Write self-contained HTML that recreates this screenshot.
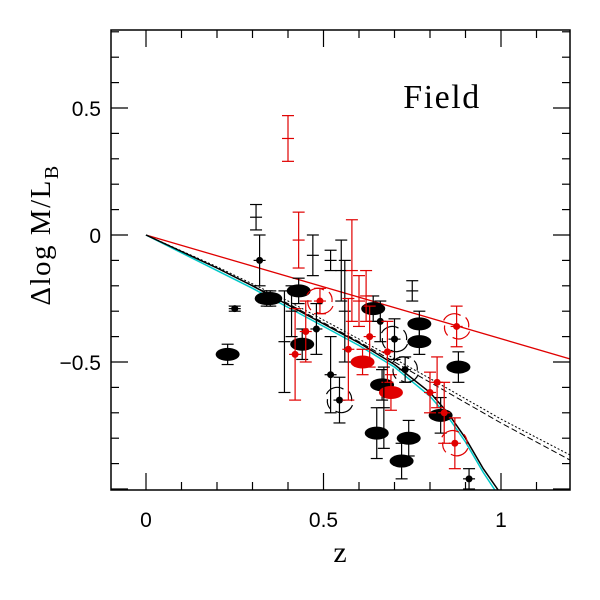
<!DOCTYPE html>
<html><head><meta charset="utf-8"><style>
html,body{margin:0;padding:0;background:#fff;width:600px;height:600px;overflow:hidden}
text{font-family:"Liberation Sans",sans-serif}
</style></head><body>
<svg id="chart" width="600" height="600" xmlns="http://www.w3.org/2000/svg">
<g id="marks"></g>
<g id="axes"></g>
<text x="442" y="108" font-size="34" text-anchor="middle" style="font-family:'Liberation Serif',serif" letter-spacing="1.5">Field</text>
<text x="340" y="562" font-size="30" text-anchor="middle" style="font-family:'Liberation Serif',serif">z</text>
<text transform="translate(50,235) rotate(-90)" font-size="29" text-anchor="middle" letter-spacing="1.5" style="font-family:'Liberation Serif',serif">Δlog M/L<tspan font-size="20" dy="8">B</tspan></text>
</svg>
<script>
const xTicks=[0,0.5,1];
const xTickLabels=["0","0.5","1"];
const yTicks=[-0.5,0,0.5];
const yTickLabels=["−0.5","0","0.5"];
// points: z, dlogML, err(y), color (0 black,1 red), marker: d dot, e ellipse, s spiral, n none
const ptX=[0.25,0.32,0.35,0.23,0.34,0.43,0.44,0.64,0.61,0.665,0.69,0.65,0.77,0.77,0.74,0.72,0.88,0.83,0.91,0.545,0.49,0.875,0.70,0.73,0.87,0.40,0.31,0.43,0.47,0.52,0.55,0.58,0.62,0.66,0.68,0.75,0.60,0.42,0.45,0.56,0.63,0.80,0.82,0.48,0.39,0.57,0.67,0.84,0.52,0.41];
const ptY=[-0.29,-0.10,-0.25,-0.47,-0.25,-0.22,-0.43,-0.29,-0.50,-0.59,-0.62,-0.78,-0.35,-0.42,-0.80,-0.89,-0.52,-0.71,-0.96,-0.65,-0.26,-0.36,-0.41,-0.53,-0.82,0.38,0.07,-0.02,-0.08,-0.10,-0.14,-0.14,-0.24,-0.34,-0.46,-0.22,-0.26,-0.47,-0.38,-0.30,-0.40,-0.62,-0.58,-0.37,-0.42,-0.45,-0.68,-0.70,-0.55,-0.30];
const ptErr=[0.01,0.1,0.03,0.04,0.03,0.05,0.06,0.05,0.05,0.06,0.07,0.1,0.05,0.05,0.07,0.07,0.06,0.07,0.04,0.09,0.05,0.08,0.08,0.05,0.1,0.09,0.05,0.11,0.08,0.04,0.12,0.2,0.1,0.08,0.12,0.04,0.1,0.18,0.12,0.2,0.12,0.08,0.1,0.1,0.2,0.2,0.16,0.12,0.15,0.1];
const ptCol=[0,0,0,0,0,0,0,0,1,0,1,0,0,0,0,0,0,0,0,0,1,1,0,0,1,1,0,1,0,0,0,1,1,0,1,0,1,1,1,0,1,1,1,0,0,1,0,1,0,0];
const ptMark=["d","d","e","e","e","e","e","e","e","e","e","e","e","e","e","e","e","e","d","s","s","s","s","s","s","n","n","n","n","n","n","n","n","d","d","n","n","d","d","n","d","d","d","d","n","d","n","d","d","n"];
// model curves
const curveZ=[0,0.1,0.2,0.3,0.4,0.5,0.6,0.7,0.8,0.85,0.9,0.95,1.0];
const curveSolid=[0,-0.065,-0.13,-0.2,-0.275,-0.35,-0.425,-0.51,-0.62,-0.7,-0.8,-0.92,-1.02];
const curveCyan=[0,-0.07,-0.14,-0.21,-0.285,-0.36,-0.435,-0.52,-0.635,-0.715,-0.815,-0.935,-1.04];
const dashZ=[0,0.2,0.4,0.6,0.8,1.0,1.2];
const dashA=[0,-0.13,-0.27,-0.42,-0.58,-0.74,-0.89];
const dashB=[0,-0.125,-0.26,-0.41,-0.565,-0.725,-0.87];
const redZ=[0,1.2];
const redY=[0,-0.49];

const L=111,R=570,T=30,B=490;
const sx=z=>146+z*355;
const sy=v=>235-v*254;
const NS="http://www.w3.org/2000/svg";
const marks=document.getElementById('marks'), axes=document.getElementById('axes');
function mk(tag,attrs,parent){const e=document.createElementNS(NS,tag);for(const k in attrs)e.setAttribute(k,attrs[k]);parent.appendChild(e);return e;}

const defs=mk('defs',{},marks);
const cp=mk('clipPath',{id:'clip'},defs);
mk('rect',{x:L,y:T,width:R-L,height:B-T},cp);
const g=mk('g',{'clip-path':'url(#clip)'},marks);

function line(xs,ys,stroke,w,dash,name){
  const d=xs.map((z,i)=>(i?'L':'M')+sx(z).toFixed(1)+','+sy(ys[i]).toFixed(1)).join(' ');
  const p=mk('path',{d:d,fill:'none',stroke:stroke,'stroke-width':w},g);
  if(dash)p.setAttribute('stroke-dasharray',dash);
  
  
}
line(redZ,redY,'#e00000',1.3,null,'red-model-line');
line(dashZ,dashA,'#000',1,'6,3','dashed-model-a');
line(dashZ,dashB,'#000',1,'2,2','dashed-model-b');
line(curveZ,curveCyan,'#00c8c8',1.5,null,'cyan-model-curve');
line(curveZ,curveSolid,'#000',1.5,null,'black-model-curve');

for(let i=0;i<ptX.length;i++){
  const c=ptCol[i]?'#e00000':'#000';
  const x=sx(ptX[i]), y=sy(ptY[i]), e=ptErr[i]*254;
  const pg=mk('g',{},g);
  
  
  mk('line',{x1:x,y1:y-e,x2:x,y2:y+e,stroke:c,'stroke-width':1.2},pg);
  mk('line',{x1:x-6,y1:y-e,x2:x+6,y2:y-e,stroke:c,'stroke-width':1.2},pg);
  mk('line',{x1:x-6,y1:y+e,x2:x+6,y2:y+e,stroke:c,'stroke-width':1.2},pg);
  mk('line',{x1:x-6,y1:y,x2:x+6,y2:y,stroke:c,'stroke-width':1.2},pg);
  const m=ptMark[i];
  if(m==='d'||m==='s') mk('circle',{cx:x,cy:y,r:3.5,fill:c},pg);
  if(m==='e') mk('ellipse',{cx:x,cy:y,rx:12,ry:6.5,fill:c},pg);
  if(m==='s'){
    mk('path',{d:`M${x-13},${y-6} A12,12 0 0 1 ${x+4},${y-11}`,fill:'none',stroke:c,'stroke-width':1.2},pg);
    mk('path',{d:`M${x+13},${y+5} A12,12 0 0 1 ${x-4},${y+11}`,fill:'none',stroke:c,'stroke-width':1.2},pg);
    mk('path',{d:`M${x+9},${y-9} A12,12 0 0 1 ${x+12},${y+1}`,fill:'none',stroke:c,'stroke-width':1.2},pg);
    mk('path',{d:`M${x-9},${y+9} A12,12 0 0 1 ${x-12},${y-1}`,fill:'none',stroke:c,'stroke-width':1.2},pg);
  }
}

const fr=mk('rect',{x:L,y:T,width:R-L,height:B-T,fill:'none',stroke:'#000','stroke-width':1.5},axes);


for(let k=-1;k<=12;k++){
  const z=k/10, x=sx(z); if(x<L||x>R)continue;
  const major=(k%5===0), len=major?17:8;
  mk('line',{x1:x,y1:B,x2:x,y2:B-len,stroke:'#000','stroke-width':1.2},axes);
  mk('line',{x1:x,y1:T,x2:x,y2:T+len,stroke:'#000','stroke-width':1.2},axes);
}
for(let k=-10;k<=8;k++){
  const v=k/10, y=sy(v); if(y<T||y>B)continue;
  const major=(k%5===0), len=major?17:8;
  mk('line',{x1:L,y1:y,x2:L+len,y2:y,stroke:'#000','stroke-width':1.2},axes);
  mk('line',{x1:R,y1:y,x2:R-len,y2:y,stroke:'#000','stroke-width':1.2},axes);
}
xTicks.forEach((t,i)=>{
  const tx=mk('text',{x:sx(t),y:527,'font-size':21,'text-anchor':'middle'},axes);
  tx.textContent=xTickLabels[i];
  
  
});
yTicks.forEach((t,i)=>{
  const tx=mk('text',{x:101,y:sy(t)+8,'font-size':21,'text-anchor':'end'},axes);
  tx.textContent=yTickLabels[i];
  
  
});
</script>
</body></html>
